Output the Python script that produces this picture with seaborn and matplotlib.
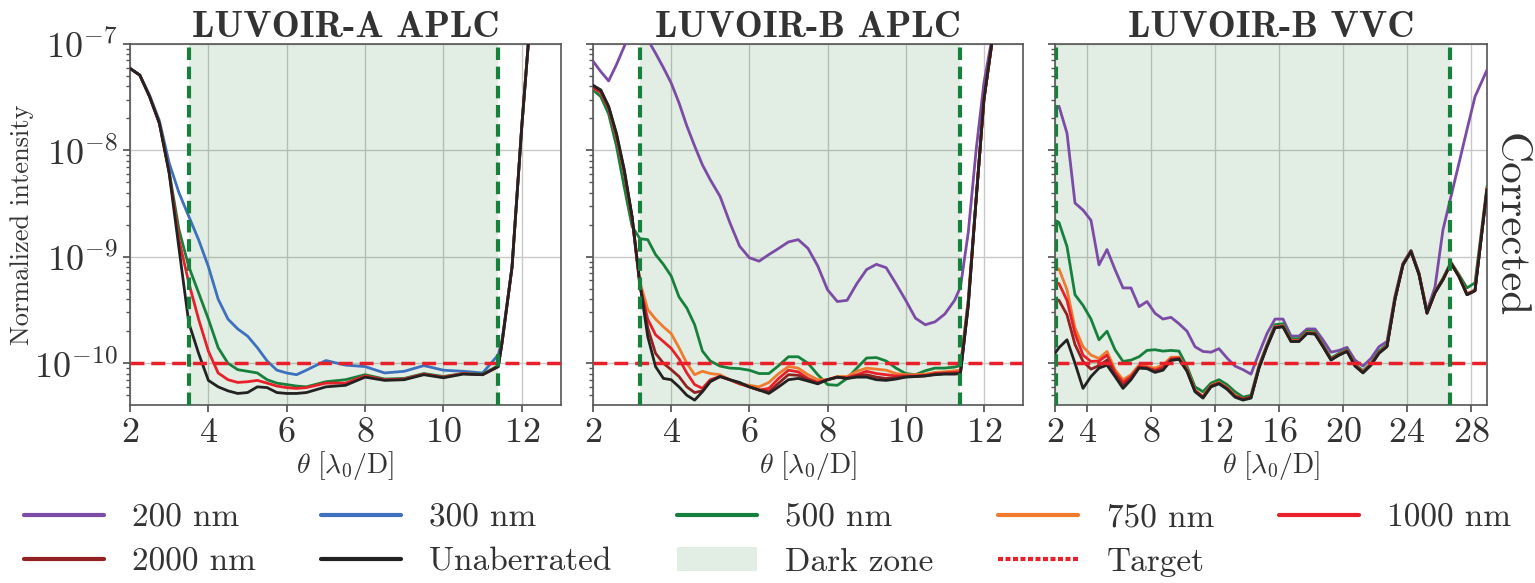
import numpy as np
import pandas as pd
import matplotlib
matplotlib.use("Agg")
import matplotlib.pyplot as plt
import seaborn as sns
from matplotlib.lines import Line2D
from matplotlib.patches import Patch

# ---- data (normalized intensity vs theta [lambda0/D]) ----
a_x = [2.0, 2.25, 2.5, 2.75, 3.0, 3.25, 3.5, 3.75, 4.0, 4.25, 4.5, 4.75, 5.0, 5.25, 5.5, 5.75,
       6.0, 6.25, 6.5, 7.0, 7.5, 8.0, 8.5, 9.0, 9.5, 10.0, 10.5, 11.0, 11.4, 11.5, 11.75, 12.0, 12.25]
a_300 = [5.9e-8, 5.1e-8, 3.3e-8, 1.9e-8, 7.6e-9, 4.0e-9, 2.4e-9, 1.45e-9, 8.1e-10, 4.0e-10, 2.6e-10,
         2.1e-10, 1.8e-10, 1.4e-10, 1.05e-10, 8.6e-11, 8.1e-11, 7.8e-11, 8.6e-11, 1.06e-10, 9.6e-11,
         9.3e-11, 8.1e-11, 8.4e-11, 9.5e-11, 8.6e-11, 8.4e-11, 8.1e-11, 1.2e-10, 1.7e-10, 8e-10, 1.7e-8, 2.5e-7]
a_500 = [5.9e-8, 5.1e-8, 3.2e-8, 1.8e-8, 6.3e-9, 1.8e-9, 8.1e-10, 4.6e-10, 2.6e-10, 1.4e-10, 1.0e-10,
         8.7e-11, 8.4e-11, 8.1e-11, 7.0e-11, 6.5e-11, 6.3e-11, 6.1e-11, 6.0e-11, 6.7e-11, 7.0e-11,
         7.8e-11, 7.1e-11, 7.2e-11, 8.0e-11, 7.5e-11, 8.0e-11, 7.9e-11, 9.5e-11, 1.6e-10, 8e-10, 1.7e-8, 2.5e-7]
a_1000 = [5.9e-8, 5.1e-8, 3.2e-8, 1.8e-8, 6.2e-9, 1.45e-9, 5.7e-10, 2.6e-10, 1.3e-10, 8.1e-11, 7.0e-11,
          6.6e-11, 6.7e-11, 6.9e-11, 6.5e-11, 6.1e-11, 5.9e-11, 5.8e-11, 5.9e-11, 6.5e-11, 6.5e-11,
          7.6e-11, 7.0e-11, 7.1e-11, 7.9e-11, 7.4e-11, 8.0e-11, 7.8e-11, 9.3e-11, 1.6e-10, 8e-10, 1.7e-8, 2.5e-7]
a_unab = [5.9e-8, 5.1e-8, 3.2e-8, 1.8e-8, 6.1e-9, 1.2e-9, 2.4e-10, 1.24e-10, 6.9e-11, 6.0e-11, 5.5e-11,
          5.2e-11, 5.3e-11, 6.0e-11, 5.9e-11, 5.3e-11, 5.2e-11, 5.2e-11, 5.3e-11, 6.0e-11, 6.2e-11,
          7.4e-11, 6.9e-11, 7.0e-11, 7.8e-11, 7.3e-11, 7.9e-11, 7.8e-11, 9.3e-11, 1.6e-10, 8e-10, 1.7e-8, 2.5e-7]

b_x = [2.0, 2.2, 2.4, 2.6, 2.8, 3.0, 3.2, 3.4, 3.6, 3.8, 4.0, 4.2, 4.4, 4.6, 4.8, 5.0, 5.25, 5.5, 5.75,
       6.0, 6.25, 6.5, 6.75, 7.0, 7.25, 7.5, 7.75, 8.0, 8.25, 8.5, 8.75, 9.0, 9.25, 9.5, 9.75, 10.0,
       10.25, 10.5, 10.75, 11.0, 11.25, 11.4, 11.6, 11.8, 12.0, 12.2, 12.4]
b_200 = [6.9e-8, 5.5e-8, 4.5e-8, 6.4e-8, 9.5e-8, 1.4e-7, 1.7e-7, 1.1e-7, 8.2e-8, 6.0e-8, 4.3e-8, 2.8e-8,
         1.7e-8, 1.1e-8, 7.3e-9, 5.3e-9, 3.7e-9, 2.1e-9, 1.26e-9, 9.8e-10, 9.1e-10, 1.05e-9, 1.2e-9, 1.38e-9,
         1.45e-9, 1.2e-9, 8.2e-10, 4.9e-10, 3.8e-10, 3.9e-10, 5.6e-10, 7.6e-10, 8.5e-10, 7.9e-10, 5.6e-10,
         3.9e-10, 2.65e-10, 2.3e-10, 2.45e-10, 2.9e-10, 3.9e-10, 5.2e-10, 1.7e-9, 1.0e-8, 4.3e-8, 1.1e-7, 3e-7]
b_500 = [3.7e-8, 3.2e-8, 2.2e-8, 1.1e-8, 4.5e-9, 1.93e-9, 1.48e-9, 1.45e-9, 1.05e-9, 8.5e-10, 6.6e-10,
         4.2e-10, 3.3e-10, 2.3e-10, 1.3e-10, 1.05e-10, 9.4e-11, 9.0e-11, 8.9e-11, 8.6e-11, 8.0e-11, 8.0e-11,
         9.5e-11, 1.15e-10, 1.15e-10, 1.0e-10, 7.8e-11, 6.3e-11, 6.2e-11, 7.2e-11, 9.0e-11, 1.12e-10,
         1.13e-10, 1.05e-10, 9.0e-11, 8.0e-11, 7.8e-11, 8.5e-11, 9.0e-11, 9.0e-11, 9.2e-11, 9.5e-11, 4e-10,
         3.5e-9, 3e-8, 1.0e-7, 3e-7]
b_750 = [3.9e-8, 3.5e-8, 2.5e-8, 1.35e-8, 6.2e-9, 2.3e-9, 5.8e-10, 3.2e-10, 2.6e-10, 2.2e-10, 1.9e-10,
         1.4e-10, 1.0e-10, 7.8e-11, 8.4e-11, 8.0e-11, 7.8e-11, 7.0e-11, 6.4e-11, 6.2e-11, 6.0e-11, 6.6e-11,
         8.0e-11, 9.3e-11, 9.0e-11, 7.8e-11, 7.0e-11, 7.0e-11, 7.5e-11, 7.5e-11, 8.4e-11, 9.0e-11, 8.8e-11,
         8.6e-11, 8.0e-11, 7.8e-11, 7.8e-11, 7.9e-11, 8.2e-11, 8.3e-11, 8.5e-11, 8.6e-11, 3.8e-10, 3.5e-9,
         3e-8, 1.0e-7, 3e-7]
b_1000 = [3.9e-8, 3.5e-8, 2.5e-8, 1.35e-8, 6.2e-9, 2.3e-9, 5.3e-10, 2.6e-10, 1.85e-10, 1.6e-10, 1.38e-10,
          1.1e-10, 8.1e-11, 6.3e-11, 5.8e-11, 7.0e-11, 7.5e-11, 7.0e-11, 6.4e-11, 6.0e-11, 5.6e-11, 5.8e-11,
          7.2e-11, 8.6e-11, 8.3e-11, 7.2e-11, 6.6e-11, 7.0e-11, 7.4e-11, 7.3e-11, 7.8e-11, 8.4e-11, 8.0e-11,
          7.8e-11, 7.6e-11, 7.6e-11, 7.6e-11, 7.7e-11, 8.0e-11, 8.1e-11, 8.2e-11, 8.3e-11, 3.6e-10, 3.4e-9,
          3e-8, 1.0e-7, 3e-7]
b_2000 = [4.0e-8, 3.6e-8, 2.55e-8, 1.4e-8, 6.4e-9, 2.35e-9, 5.5e-10, 2.15e-10, 1.24e-10, 1.0e-10, 8.7e-11,
          7.5e-11, 6.0e-11, 5.3e-11, 5.5e-11, 6.8e-11, 7.5e-11, 7.0e-11, 6.5e-11, 6.0e-11, 5.6e-11, 5.4e-11,
          6.5e-11, 7.8e-11, 7.7e-11, 7.0e-11, 6.5e-11, 7.0e-11, 7.4e-11, 7.2e-11, 7.6e-11, 7.8e-11, 7.4e-11,
          7.2e-11, 7.3e-11, 7.5e-11, 7.5e-11, 7.6e-11, 7.9e-11, 8.0e-11, 8.0e-11, 8.1e-11, 3.5e-10, 3.4e-9,
          3e-8, 1.0e-7, 3e-7]
b_unab = [4.1e-8, 3.7e-8, 2.6e-8, 1.45e-8, 6.6e-9, 2.4e-9, 5.6e-10, 1.78e-10, 9.3e-11, 7.2e-11, 7.0e-11,
          6.0e-11, 5.0e-11, 4.5e-11, 5.4e-11, 6.7e-11, 7.5e-11, 7.0e-11, 6.6e-11, 6.0e-11, 5.6e-11, 5.2e-11,
          6.0e-11, 7.0e-11, 7.2e-11, 6.8e-11, 6.4e-11, 7.0e-11, 7.4e-11, 7.2e-11, 7.4e-11, 7.4e-11, 7.0e-11,
          6.9e-11, 7.1e-11, 7.4e-11, 7.5e-11, 7.6e-11, 7.8e-11, 7.9e-11, 7.9e-11, 8.0e-11, 3.5e-10, 3.4e-9,
          3e-8, 1.0e-7, 3e-7]

c_x = [2.0, 2.25, 2.75, 3.25, 3.75, 4.25, 4.75, 5.25, 5.75, 6.25, 6.75, 7.25, 7.75, 8.25, 8.75, 9.25,
       9.75, 10.25, 10.75, 11.25, 11.75, 12.25, 12.75, 13.25, 13.75, 14.25, 14.75, 15.25, 15.75, 16.25,
       16.75, 17.25, 17.75, 18.25, 18.75, 19.25, 19.75, 20.25, 20.75, 21.25, 21.75, 22.25, 22.75, 23.25,
       23.75, 24.25, 24.75, 25.25, 25.75, 26.25, 26.75, 27.25, 27.75, 28.25, 29.0]
c_200 = [2.4e-8, 2.6e-8, 1.45e-8, 3.2e-9, 2.75e-9, 2.2e-9, 8.4e-10, 1.17e-9, 7.6e-10, 5.1e-10, 5.1e-10,
         3.4e-10, 3.8e-10, 2.95e-10, 2.6e-10, 2.7e-10, 2.35e-10, 2.0e-10, 1.43e-10, 1.29e-10, 1.27e-10,
         1.37e-10, 1.12e-10, 9.4e-11, 8.7e-11, 7.9e-11, 1.24e-10, 1.9e-10, 2.6e-10, 2.6e-10, 1.8e-10,
         1.8e-10, 2.1e-10, 2.1e-10, 1.66e-10, 1.27e-10, 1.32e-10, 1.41e-10, 1.07e-10, 9.4e-11, 1.11e-10,
         1.43e-10, 1.6e-10, 4.3e-10, 8.7e-10, 1.15e-9, 7.0e-10, 3.1e-10, 5.2e-10, 1.8e-9, 3.7e-9, 7.6e-9,
         1.57e-8, 3.2e-8, 5.7e-8]
c_500 = [2.2e-9, 2.1e-9, 1.25e-9, 4.4e-10, 3.5e-10, 2.6e-10, 1.66e-10, 2.0e-10, 1.34e-10, 1.04e-10,
         1.07e-10, 1.15e-10, 1.32e-10, 1.34e-10, 1.3e-10, 1.32e-10, 1.3e-10, 9.3e-11, 6.0e-11, 5.4e-11,
         6.5e-11, 7.0e-11, 6.3e-11, 5.4e-11, 4.8e-11, 5.0e-11, 9.5e-11, 1.5e-10, 2.3e-10, 2.35e-10, 1.7e-10,
         1.7e-10, 2.0e-10, 1.98e-10, 1.5e-10, 1.12e-10, 1.24e-10, 1.34e-10, 9.8e-11, 8.5e-11, 1.0e-10,
         1.3e-10, 1.5e-10, 4.1e-10, 8.6e-10, 1.14e-9, 7.0e-10, 3.0e-10, 4.7e-10, 6.3e-10, 8.9e-10, 6.8e-10,
         5.1e-10, 5.7e-10, 4.6e-9]
c_750 = [7.5e-10, 7.7e-10, 4.9e-10, 2.15e-10, 1.43e-10, 1.19e-10, 1.11e-10, 1.29e-10, 8.7e-11, 7.0e-11,
         7.8e-11, 9.6e-11, 9.3e-11, 9.0e-11, 9.6e-11, 1.14e-10, 1.14e-10, 8.8e-11, 5.6e-11, 4.9e-11, 6.2e-11,
         6.6e-11, 5.9e-11, 5.0e-11, 4.6e-11, 4.8e-11, 9.2e-11, 1.46e-10, 2.2e-10, 2.25e-10, 1.64e-10,
         1.64e-10, 1.94e-10, 1.92e-10, 1.46e-10, 1.09e-10, 1.21e-10, 1.31e-10, 9.6e-11, 8.3e-11, 9.8e-11,
         1.26e-10, 1.46e-10, 4.05e-10, 8.5e-10, 1.13e-9, 6.9e-10, 2.98e-10, 4.65e-10, 6.2e-10, 8.8e-10,
         6.6e-10, 4.5e-10, 4.9e-10, 4.4e-9]
c_1000 = [5.7e-10, 5.6e-10, 3.9e-10, 1.9e-10, 1.19e-10, 1.04e-10, 1.05e-10, 1.19e-10, 8.2e-11, 6.6e-11,
          7.5e-11, 9.3e-11, 9.1e-11, 8.6e-11, 9.2e-11, 1.1e-10, 1.12e-10, 8.6e-11, 5.5e-11, 4.8e-11, 6.1e-11,
          6.5e-11, 5.8e-11, 4.9e-11, 4.6e-11, 4.8e-11, 9.1e-11, 1.45e-10, 2.18e-10, 2.22e-10, 1.62e-10,
          1.62e-10, 1.92e-10, 1.9e-10, 1.45e-10, 1.08e-10, 1.2e-10, 1.3e-10, 9.5e-11, 8.2e-11, 9.7e-11,
          1.25e-10, 1.45e-10, 4.0e-10, 8.5e-10, 1.13e-9, 6.9e-10, 2.96e-10, 4.6e-10, 6.15e-10, 8.75e-10,
          6.55e-10, 4.45e-10, 4.85e-10, 4.35e-9]
c_2000 = [4.0e-10, 3.9e-10, 2.85e-10, 1.5e-10, 1.04e-10, 8.8e-11, 9.5e-11, 1.07e-10, 7.8e-11, 6.2e-11,
          7.2e-11, 9.1e-11, 9.0e-11, 8.4e-11, 8.8e-11, 1.08e-10, 1.1e-10, 8.5e-11, 5.5e-11, 4.8e-11, 6.1e-11,
          6.5e-11, 5.8e-11, 4.9e-11, 4.6e-11, 4.8e-11, 9.1e-11, 1.44e-10, 2.17e-10, 2.21e-10, 1.61e-10,
          1.61e-10, 1.91e-10, 1.89e-10, 1.44e-10, 1.08e-10, 1.2e-10, 1.3e-10, 9.5e-11, 8.2e-11, 9.7e-11,
          1.25e-10, 1.44e-10, 4.0e-10, 8.4e-10, 1.12e-9, 6.85e-10, 2.96e-10, 4.6e-10, 6.1e-10, 8.7e-10,
          6.5e-10, 4.4e-10, 4.8e-10, 4.3e-9]
c_unab = [1.24e-10, 1.4e-10, 1.66e-10, 1.0e-10, 5.8e-11, 7.5e-11, 9.0e-11, 9.6e-11, 7.5e-11, 5.8e-11,
          7.0e-11, 9.0e-11, 8.9e-11, 8.2e-11, 8.6e-11, 1.06e-10, 1.09e-10, 8.4e-11, 5.4e-11, 4.7e-11, 6.0e-11,
          6.4e-11, 5.7e-11, 4.8e-11, 4.5e-11, 4.7e-11, 9.0e-11, 1.43e-10, 2.15e-10, 2.2e-10, 1.6e-10, 1.6e-10,
          1.9e-10, 1.88e-10, 1.43e-10, 1.07e-10, 1.19e-10, 1.29e-10, 9.4e-11, 8.1e-11, 9.6e-11, 1.24e-10,
          1.43e-10, 4.0e-10, 8.4e-10, 1.12e-9, 6.8e-10, 2.95e-10, 4.6e-10, 6.1e-10, 8.7e-10, 6.5e-10, 4.4e-10,
          4.8e-10, 4.3e-9]

titles = ["LUVOIR-A APLC", "LUVOIR-B APLC", "LUVOIR-B VVC"]
dark_zones = [(3.5, 11.4), (3.2, 11.4), (2.05, 26.7)]
x_limits = [(2, 13), (2, 13), (2, 29)]
x_ticks = [[2, 4, 6, 8, 10, 12], [2, 4, 6, 8, 10, 12], [2, 4, 8, 12, 16, 20, 24, 28]]
target = 1e-10

labels = ["200 nm", "300 nm", "500 nm", "750 nm", "1000 nm", "2000 nm", "Unaberrated"]
colors = {"200 nm": "#7b4ba5", "300 nm": "#3d70bd", "500 nm": "#17803c", "750 nm": "#f07a2e",
          "1000 nm": "#e8202a", "2000 nm": "#922222", "Unaberrated": "#222222"}

panels = [
    (a_x, {"300 nm": a_300, "500 nm": a_500, "1000 nm": a_1000, "Unaberrated": a_unab}),
    (b_x, {"200 nm": b_200, "500 nm": b_500, "750 nm": b_750, "1000 nm": b_1000,
           "2000 nm": b_2000, "Unaberrated": b_unab}),
    (c_x, {"200 nm": c_200, "500 nm": c_500, "750 nm": c_750, "1000 nm": c_1000,
           "2000 nm": c_2000, "Unaberrated": c_unab}),
]

sns.set_theme(style="whitegrid")
plt.rcParams.update({
    "font.family": ["cmr10", "DejaVu Serif"],
    "mathtext.fontset": "cm",
    "axes.formatter.use_mathtext": True,
    "axes.unicode_minus": False,
    "axes.edgecolor": "#555555",
    "axes.linewidth": 1.2,
    "grid.color": "#c8c8c8",
    "grid.linewidth": 1.0,
    "xtick.bottom": True,
    "ytick.left": True,
    "xtick.major.size": 5,
    "ytick.major.size": 5,
    "ytick.minor.size": 3,
    "ytick.minor.visible": True,
    "xtick.color": "#555555",
    "ytick.color": "#555555",
    "xtick.labelcolor": "#333333",
    "ytick.labelcolor": "#333333",
    "text.color": "#333333",
    "axes.labelcolor": "#333333",
})

fig = plt.figure(figsize=(15.35, 5.83), dpi=100)
lefts = [130 / 1535, 593 / 1535, 1055 / 1535]
widths = [431 / 1535, 430 / 1535, 432 / 1535]
bottom, height = 1 - 405 / 583, (405 - 44) / 583
axes = [fig.add_axes([l, bottom, w, height]) for l, w in zip(lefts, widths)]

zone_color = (0.09, 0.45, 0.12, 0.12)

for i, ax in enumerate(axes):
    xs, series = panels[i]
    ax.set_yscale("log")
    lo, hi = dark_zones[i]
    ax.axvspan(lo, hi, color=zone_color, lw=0, zorder=1)
    for lab in labels:
        if lab not in series:
            continue
        df = pd.DataFrame({"theta": xs, "intensity": series[lab]})
        sns.lineplot(data=df, x="theta", y="intensity", ax=ax, color=colors[lab],
                     lw=2.0, estimator=None, sort=False, zorder=3)
    ax.axhline(target, color="#e8202a", ls=(0, (4, 2)), lw=2.5, zorder=4)
    for v in (lo, hi):
        ax.axvline(v, color="#17803c", ls=(0, (3, 1.6)), lw=3, zorder=5)
    ax.set_xlim(*x_limits[i])
    ax.set_ylim(4.05e-11, 1e-7)
    ax.set_xticks(x_ticks[i])
    ax.tick_params(axis="both", which="major", labelsize=26, pad=4)
    ax.grid(True, which="major")
    ax.grid(False, which="minor")
    ax.set_xlabel(r"$\theta\ [\lambda_0/\mathrm{D}]$", fontsize=20, labelpad=0)
    ax.set_ylabel("")
    ax.set_title(titles[i], fontsize=27, fontfamily="cmb10", pad=5)
    if i > 0:
        ax.tick_params(axis="y", which="both", labelleft=False)

axes[0].set_ylabel("Normalized intensity", fontsize=19)
axes[0].yaxis.set_label_coords(-0.222, 0.5)

fig.text(0.983, 0.614, "Corrected", rotation=270, ha="center", va="center", fontsize=31)

handles = {lab: Line2D([], [], color=colors[lab], lw=3) for lab in labels}
handles["Dark zone"] = Patch(facecolor=zone_color, edgecolor="none")
handles["Target"] = Line2D([], [], color="#e8202a", lw=3, ls=(0, (1.2, 0.6)))
order = ["200 nm", "2000 nm", "300 nm", "Unaberrated", "500 nm", "Dark zone",
         "750 nm", "Target", "1000 nm"]
fig.legend([handles[k] for k in order], order, loc="upper center", bbox_to_anchor=(0.5, 1 - 503 / 583),
           ncol=5, frameon=False, fontsize=24, handlelength=2.4, handletextpad=0.85,
           columnspacing=1.95, labelspacing=0.45, borderpad=0, borderaxespad=0)

fig.savefig("out.png", dpi=100)
